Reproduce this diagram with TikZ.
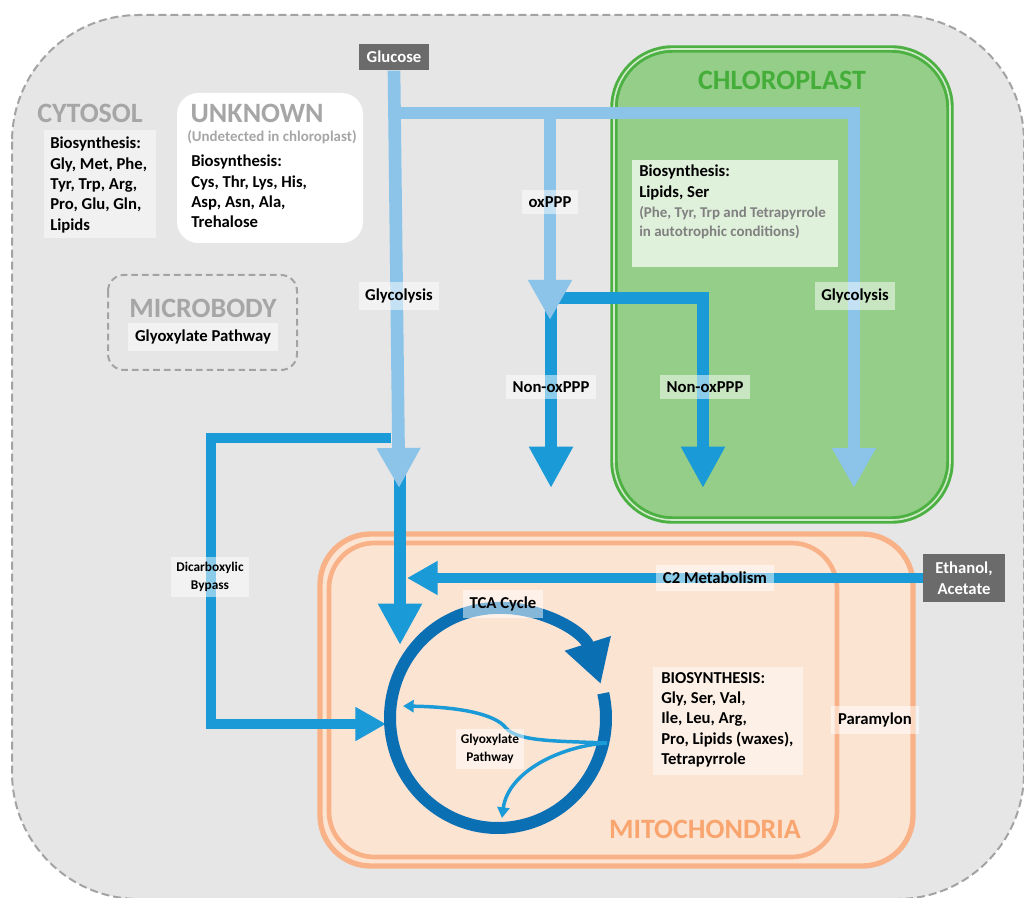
\documentclass[tikz,border=0pt]{standalone}
\usepackage{fontspec}
\setmainfont{Carlito}
\usetikzlibrary{arrows.meta}

\definecolor{cellgray}{HTML}{E6E6E6}
\definecolor{dashgray}{HTML}{A3A3A3}
\definecolor{titlegray}{HTML}{A6A6A6}
\definecolor{boxgray}{HTML}{6B6B6B}
\definecolor{lightblue}{HTML}{8CC4E9}
\definecolor{midblue}{HTML}{1A9AD7}
\definecolor{ringblue}{HTML}{0B6FB4}
\definecolor{chlorofill}{HTML}{94CE88}
\definecolor{chloroline}{HTML}{4CB043}
\definecolor{chlorotext}{HTML}{45AE3A}
\definecolor{mitofill}{HTML}{FCE4D3}
\definecolor{mitoline}{HTML}{F9B287}
\definecolor{mitotext}{HTML}{F8A56F}

\begin{document}
\begin{tikzpicture}[x=0.75pt,y=-0.75pt,
    lightflow/.style={draw=lightblue,line width=9.5pt,-{Triangle[width=31pt,length=30pt]}},
    darkflow/.style={draw=midblue,line width=9pt,-{Triangle[width=31pt,length=31pt]}},
    thinflow/.style={draw=midblue,line width=7pt,-{Triangle[width=24pt,length=23pt]}},
    glyox/.style={draw=midblue,line width=2.6pt,-{Triangle[width=9pt,length=8pt]}},
    title/.style={font=\fontsize{21}{24}\selectfont\bfseries,text=titlegray},
    body/.style={font=\fontsize{12.5}{15.2}\selectfont\bfseries,align=left,inner sep=0pt},
    note/.style={body,font=\fontsize{11.2}{14.2}\selectfont\bfseries,text=gray},
    tag/.style={font=\fontsize{12.5}{14}\selectfont\bfseries,fill=white,fill opacity=0.5,text opacity=1,inner xsep=5pt,inner ysep=5pt},
    smalltag/.style={tag,font=\fontsize{10}{13}\selectfont\bfseries,align=center,inner xsep=4pt,inner ysep=4pt},
    darkbox/.style={fill=boxgray,text=white,font=\fontsize{12.5}{15.5}\selectfont\bfseries,align=center}]

\useasboundingbox (0,0) rectangle (1024,898);

% cell
\begin{scope}
\clip (0,0) rectangle (1024,898);
\draw[fill=cellgray,draw=dashgray,line width=1.5pt,dash pattern=on 6pt off 3pt,rounded corners=95pt]
    (12,15) rectangle (1024,899);
\end{scope}

% compartments
\draw[fill=chlorofill,draw=chloroline,line width=2.2pt,double=white!55!chlorofill,double distance=1.2pt,rounded corners=44pt]
    (614,49) rectangle (950,520);
\draw[fill=mitofill,draw=mitoline,line width=4pt,rounded corners=38pt] (320,534) rectangle (913,866);
\draw[draw=mitoline,line width=3.5pt,rounded corners=34pt] (329,543) rectangle (837,857);
\draw[fill=white,draw=none,rounded corners=16pt] (177,93) rectangle (363,243);
\draw[draw=dashgray,line width=1.5pt,dash pattern=on 5pt off 3pt,rounded corners=12pt] (108,275) rectangle (297,370);
\fill[white!70!chlorofill] (632,160) rectangle (838,267);
\fill[white!45!cellgray] (44,130) rectangle (156,238);
\fill[white!45!mitofill] (653,667) rectangle (803,775);

% titles
\node[title] (cytosol) at (90,113) {CYTOSOL};
\node[title,anchor=west] (unknown) at (186,113) {UNKNOWN};
\node[note,text=titlegray,anchor=west] (undetected) at (187,137) {(Undetected in chloroplast)};
\node[title] (microbody) at (203,308) {MICROBODY};
\node[title,text=chlorotext] (chloroplast) at (782,80) {CHLOROPLAST};
\node[title,text=mitotext] (mitochondria) at (705,829) {MITOCHONDRIA};

% biosynthesis lists
\node[body,anchor=north west] (cytobio) at (50,137)
    {Biosynthesis:\\Gly, Met, Phe,\\Tyr, Trp, Arg,\\Pro, Glu, Gln,\\Lipids};
\node[body,anchor=north west] (unknownbio) at (191,155)
    {Biosynthesis:\\Cys, Thr, Lys, His,\\Asp, Asn, Ala,\\Trehalose};
\node[body,anchor=north west] (chlorobio) at (639,165) {Biosynthesis:\\Lipids, Ser};
\node[note,anchor=north west] (chloronote) at (639,206)
    {(Phe, Tyr, Trp and Tetrapyrrole\\in autotrophic conditions)};
\node[body,anchor=north west] (mitobio) at (661,672)
    {BIOSYNTHESIS:\\Gly, Ser, Val,\\Ile, Leu, Arg,\\Pro, Lipids (waxes),\\Tetrapyrrole};
\node[tag] (glyoxpath) at (203,337) {Glyoxylate Pathway};

% sources
\node[darkbox,minimum width=52pt,minimum height=20pt] (glucose) at (394,57) {Glucose};
\node[darkbox,minimum width=61pt,minimum height=36pt] (ethanol) at (964,578) {Ethanol,\\Acetate};

% flow ends
\coordinate (gsplit) at (394,113);
\coordinate (glyend) at (399,488);
\coordinate (glytca) at (400,645);
\coordinate (oxend) at (550,320);
\coordinate (nonox1) at (551,488);
\coordinate (nonox2) at (703,488);
\coordinate (chlglyend) at (854,488);
\coordinate (bypass) at (391,438);
\coordinate (bypassend) at (386,724);
\coordinate (c2end) at (407,578);

% dark flows
\draw[darkflow] (400,470) -- (glytca);
\draw[darkflow] (551,292) -- (nonox1);
\draw[darkflow] (548,298) -| (nonox2);
\draw[thinflow] (bypass) -| (211,724) -- (bypassend);
\draw[thinflow] (ethanol.west) -- (c2end);

% light flows
\draw[lightflow] (glucose.south) -- (glyend);
\draw[lightflow] (gsplit) -| (chlglyend);
\draw[lightflow] (550,113) -- (oxend);

% TCA cycle
\coordinate (tca) at (498,718);
\draw[draw=ringblue,line width=9pt,-{Triangle[width=34pt,length=32pt]}]
    (tca) ++(-13:108 and 110) arc[start angle=-13,end angle=342,x radius=108,y radius=110];
\coordinate (split) at (607,743);
\draw[glyox] (split) .. controls (560,741) and (518,742) .. (506,728)
    .. controls (495,714) and (460,707) .. (403,706);
\draw[glyox] (split) .. controls (560,746) and (508,772) .. (502,818);

% labels
\node[tag] (glyco1) at (399,296) {Glycolysis};
\node[tag] (oxppp) at (550,202) {oxPPP};
\node[tag] (nonoxlab1) at (551,387) {Non-oxPPP};
\node[tag] (nonoxlab2) at (705,387) {Non-oxPPP};
\node[tag] (glyco2) at (855,296) {Glycolysis};
\node[smalltag] (bypasslab) at (210,577) {Dicarboxylic\\Bypass};
\node[tag] (c2lab) at (715,578) {C2 Metabolism};
\node[tag] (tcalab) at (503,604) {TCA Cycle};
\node[smalltag] (glyoxlab) at (490,749) {Glyoxylate\\Pathway};
\node[tag] (paramylon) at (875,720) {Paramylon};

\end{tikzpicture}
\end{document}
